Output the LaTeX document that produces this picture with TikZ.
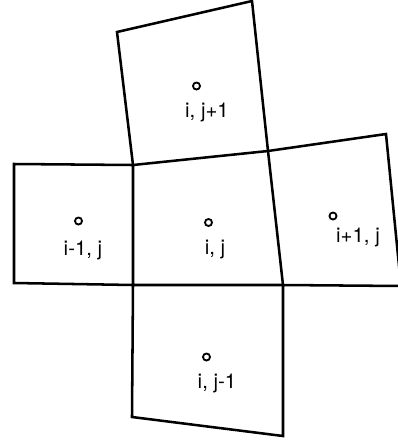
\documentclass[tikz,border=0pt]{standalone}
\usepackage{fontspec}
\setmainfont{TeX Gyre Heros}
\usetikzlibrary{positioning, calc}

\tikzset{
  cell/.style={line width=1.8pt, line join=miter},
  centre/.style={circle, draw, inner sep=0pt, minimum size=5pt, line width=1.3pt},
  cellname/.style={font=\fontsize{14.5}{16}\selectfont, inner sep=0pt}
}

\begin{document}
\begin{tikzpicture}[x=0.025cm, y=-0.025cm]
  \useasboundingbox (0,0) rectangle (398,443);
  \clip (0,0) rectangle (398,443);

  % grid vertices
  \coordinate (tl) at (117,32);
  \coordinate (tr) at (252,1);
  \coordinate (ctl) at (133,165);
  \coordinate (ctr) at (268,151);
  \coordinate (ltl) at (14,164);
  \coordinate (lbl) at (14,283);
  \coordinate (cbl) at (133,285);
  \coordinate (cbr) at (283,285);
  \coordinate (rtr) at (386,134);
  \coordinate (rbr) at (401,286);
  \coordinate (bbl) at (132,417);
  \coordinate (bbr) at (283,436);

  % cells
  \draw[cell] (ctl) -- (tl) -- (tr) -- (ctr);
  \draw[cell] (ctl) -- (ctr) -- (cbr) -- (cbl) -- cycle;
  \draw[cell] (ctl) -- (ltl) -- (lbl) -- (cbl);
  \draw[cell] (ctr) -- (rtr) -- (rbr) -- (cbr);
  \draw[cell] (cbl) -- (bbl) -- (bbr) -- (cbr);

  % cell centres and names
  \node[centre] (top) at (196.5,86) {};
  \node[cellname] (topname) at (207,112) {i, j+1};
  \node[centre] (left) at (78.5,221) {};
  \node[cellname] (leftname) at (83,250) {i-1, j};
  \node[centre] (mid) at (208.5,222.5) {};
  \node[cellname] (midname) at (215,250) {i, j};
  \node[centre] (right) at (333,216) {};
  \node[cellname] (rightname) at (358,237) {i+1, j};
  \node[centre] (bottom) at (206.5,357) {};
  \node[cellname] (bottomname) at (217,383) {i, j-1};
\end{tikzpicture}
\end{document}
